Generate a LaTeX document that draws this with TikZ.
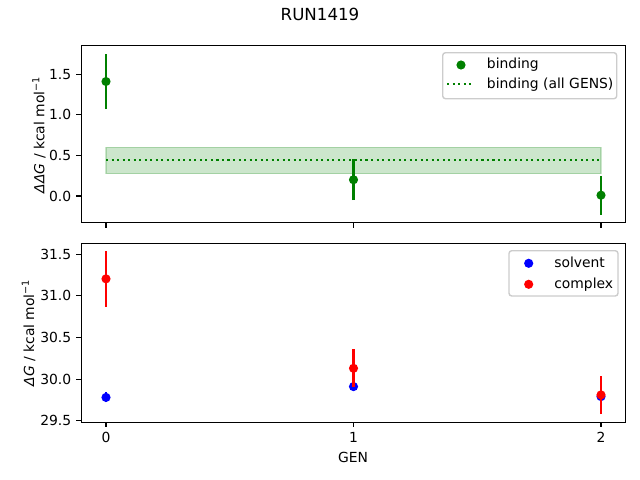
\documentclass[tikz,border=0pt]{standalone}
\usepackage{fontspec}
\setmainfont{DejaVu Sans}
\usepackage{xcolor}

\definecolor{mplgreen}{HTML}{008000}
\definecolor{mplblue}{HTML}{0000FF}
\definecolor{mplred}{HTML}{FF0000}
\definecolor{legendedge}{HTML}{CCCCCC}

\tikzset{
  axisframe/.style={black, line width=0.8pt},
  tickmark/.style={black, line width=0.8pt},
  ticklabel/.style={font=\fontsize{10}{12}\selectfont, inner sep=0pt},
  axislabel/.style={font=\fontsize{10}{12}\selectfont, inner sep=0pt},
  errbar/.style={line width=1.5pt},
  dot/.style={circle, inner sep=0pt, minimum size=6.6pt},
  meanline/.style={mplgreen, line width=1.5pt, dash pattern=on 1.5pt off 2.475pt},
  legendbox/.style={draw=legendedge, fill=white, fill opacity=0.8, line width=1pt, rounded corners=2pt},
}

\begin{document}
\begin{tikzpicture}[x=0.72pt, y=-0.72pt]
\useasboundingbox (0,0) rectangle (640,480);

% Title
\node[font=\fontsize{12}{14}\selectfont, inner sep=0pt, anchor=base] (title) at (320,20.7) {RUN1419};

% Top panel: binding
\begin{scope}[shift={(106,196)}, xscale=247.5, yscale=-81.2]
  \coordinate (topSW) at (-0.1,-0.33);
  \coordinate (topNE) at (2.1,1.855);
  \foreach \y [count=\i] in {0.0,0.5,1.0,1.5}
    \coordinate (topy\i) at (-0.1,\y);
  \foreach \x in {0,1,2}
    \coordinate (topx\x) at (\x,-0.33);

  % band of the fit over all GENS
  \filldraw[mplgreen, opacity=0.2, line width=1pt] (0,0.275) rectangle (2,0.60);
  \draw[meanline] (0,0.447) -- (2,0.447);

  % points with error bars
  \foreach \x/\v/\e in {0/1.41/0.34, 1/0.20/0.25, 2/0.01/0.24} {
    \draw[errbar, mplgreen] (\x,\v-\e) -- (\x,\v+\e);
    \node[dot, fill=mplgreen] (bind\x) at (\x,\v) {};
  }
\end{scope}

% Frame and ticks of the top panel
\draw[axisframe] (topSW) rectangle (topNE);
\foreach \i/\lab in {1/0.0, 2/0.5, 3/1.0, 4/1.5} {
  \draw[tickmark] (topy\i) -- ++(-4.9,0);
  \node[ticklabel, anchor=east] (toplab\i) at ([xshift=-7pt]topy\i) {\lab};
}
\foreach \x in {0,1,2}
  \draw[tickmark] (topx\x) -- ++(0,4.9);
\node[axislabel, rotate=90, anchor=base] (topylabel) at (44.3,134.8)
  {\itshape ΔΔG\/\upshape{} / kcal mol\textsuperscript{−1}};

% Legend of the top panel
\draw[legendbox] (442.7,52.7) rectangle (616.7,98.7);
\node[dot, fill=mplgreen] (legbind) at (461,65) {};
\node[ticklabel, anchor=base west] (legbindtext) at (486.7,68.5) {binding};
\coordinate (legmeanA) at (447.3,84);
\coordinate (legmeanB) at (474.7,84);
\draw[meanline] (legmeanA) -- (legmeanB);
\node[ticklabel, anchor=base west] (legmeantext) at (486.7,88) {binding (all GENS)};

% Bottom panel: solvent and complex
\begin{scope}[shift={(106,2875.1)}, xscale=247.5, yscale=-83.2]
  \coordinate (botSW) at (-0.1,29.481);
  \coordinate (botNE) at (2.1,31.632);
  \foreach \y [count=\i] in {29.5,30.0,30.5,31.0,31.5}
    \coordinate (boty\i) at (-0.1,\y);
  \foreach \x in {0,1,2}
    \coordinate (botx\x) at (\x,29.481);

  % solvent
  \foreach \x/\v/\e in {0/29.78/0.06, 1/29.91/0.04, 2/29.79/0.04} {
    \draw[errbar, mplblue] (\x,\v-\e) -- (\x,\v+\e);
    \node[dot, fill=mplblue] (solv\x) at (\x,\v) {};
  }
  % complex
  \foreach \x/\v/\e in {0/31.205/0.335, 1/30.13/0.23, 2/29.81/0.23} {
    \draw[errbar, mplred] (\x,\v-\e) -- (\x,\v+\e);
    \node[dot, fill=mplred] (comp\x) at (\x,\v) {};
  }
\end{scope}

% Frame and ticks of the bottom panel
\draw[axisframe] (botSW) rectangle (botNE);
\foreach \i/\lab in {1/29.5, 2/30.0, 3/30.5, 4/31.0, 5/31.5} {
  \draw[tickmark] (boty\i) -- ++(-4.9,0);
  \node[ticklabel, anchor=east] (botlab\i) at ([xshift=-7pt]boty\i) {\lab};
}
\foreach \x in {0,1,2} {
  \draw[tickmark] (botx\x) -- ++(0,4.9);
  \node[ticklabel, anchor=north] (botxlab\x) at ([yshift=-7pt]botx\x) {\x};
}
\node[axislabel, anchor=base] (xlabel) at (353,462.3) {GEN};
\node[axislabel, rotate=90, anchor=base] (botylabel) at (34,332.8)
  {\itshape ΔG\/\upshape{} / kcal mol\textsuperscript{−1}};

% Legend of the bottom panel
\draw[legendbox] (509,250.7) rectangle (618,296);
\node[dot, fill=mplblue] (legsolv) at (528.7,263.3) {};
\node[ticklabel, anchor=base west] (legsolvtext) at (554,267.3) {solvent};
\node[dot, fill=mplred] (legcomp) at (528.7,284.3) {};
\node[ticklabel, anchor=base west] (legcomptext) at (554,288.3) {complex};
\end{tikzpicture}
\end{document}
